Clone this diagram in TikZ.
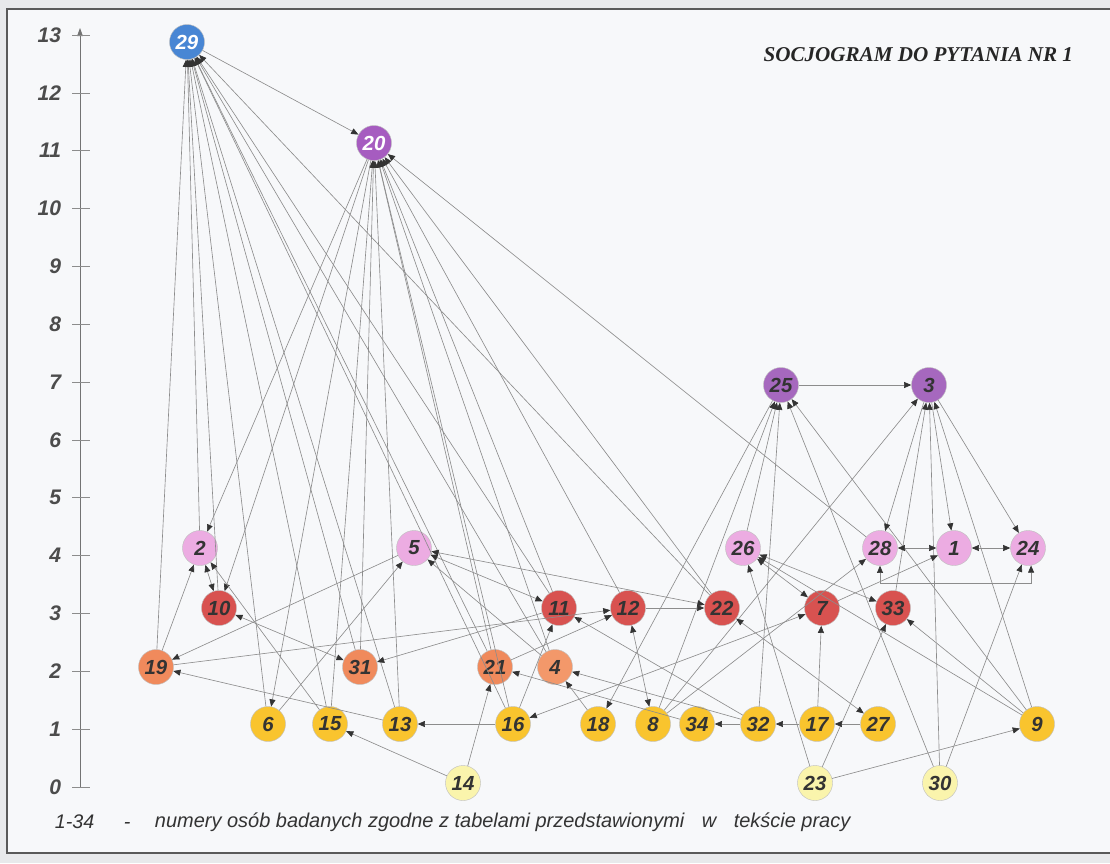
\documentclass[tikz,border=0pt]{standalone}
\usepackage{fontspec}
\setmainfont{Liberation Sans}
\newfontfamily\titlefont{Liberation Serif}
\usetikzlibrary{arrows.meta}

\definecolor{tlo}{RGB}{232,233,235}
\definecolor{kartka}{RGB}{247,248,250}
\definecolor{niebieski}{RGB}{72,134,212}
\definecolor{fiolet}{RGB}{166,92,192}
\definecolor{fiolet2}{RGB}{166,104,190}
\definecolor{roz}{RGB}{236,172,226}
\definecolor{czerwony}{RGB}{216,82,80}
\definecolor{pomar}{RGB}{240,138,92}
\definecolor{pomar2}{RGB}{243,152,106}
\definecolor{zolty}{RGB}{249,196,46}
\definecolor{jasny}{RGB}{250,244,172}
\definecolor{linia}{RGB}{140,140,140}

\tikzset{
  osoba/.style={
    draw=black!25,
    circle,
    minimum size=0.875cm,
    inner sep=0pt,
    line width=0.3pt,
    text=black!80,
    font=\fontsize{14.5}{16}\selectfont\bfseries\itshape
  },
  wybor/.style={
    draw=linia,
    line width=0.45pt,
    -{Triangle[length=1.8mm, width=1.5mm, black!80]}
  },
  wzajem/.style={
    draw=linia,
    line width=0.45pt,
    {Triangle[length=1.8mm, width=1.5mm, black!80]}-{Triangle[length=1.8mm, width=1.5mm, black!80]}
  }
}

\begin{document}
\begin{tikzpicture}[x=0.025cm, y=-0.025cm]
  \useasboundingbox (0,0) rectangle (1110,863);
  % Frame
  \fill[tlo] (0,0) rectangle (1110,863);
  \filldraw[fill=kartka, draw=black!65, line width=0.8pt] (7,9) rectangle (1120,853);

  % Axis
  \draw[black!55, line width=0.5pt, -{Triangle[length=2mm, width=1.4mm]}] (80,787) -- (80,28);
  \foreach \k in {0,...,13} {
    \draw[black!45, line width=0.4pt] (72,{787-57.85*\k}) -- (90,{787-57.85*\k});
    \node[anchor=east, text=black!70, font=\fontsize{15}{17}\selectfont\bfseries\itshape]
      at (66,{787-57.85*\k}) {\k};
  }

  % Title and legend
  \node[anchor=east, text=black!85, font=\titlefont\fontsize{15}{18}\selectfont\bfseries\itshape]
    (tytul) at (1078,55) {SOCJOGRAM DO PYTANIA NR 1};
  \node[anchor=west, text=black!80, font=\fontsize{14}{16}\selectfont\itshape]
    (numery) at (50,822) {1-34\hspace{1.5em}-};
  \node[anchor=west, text=black!80, font=\fontsize{14.2}{16}\selectfont\itshape]
    (legenda) at (150,822) {numery osób badanych zgodne z tabelami przedstawionymi\hspace{0.6em} w\hspace{0.6em} tekście pracy};

  % Persons
  \node[osoba, fill=niebieski, text=white] (n29) at (187,42) {29};
  \node[osoba, fill=fiolet, text=white] (n20) at (374,143) {20};
  \node[osoba, fill=fiolet2] (n25) at (781,385) {25};
  \node[osoba, fill=fiolet2] (n3) at (929,385) {3};

  \node[osoba, fill=roz] (n2) at (200,548) {2};
  \node[osoba, fill=roz] (n5) at (414,548) {5};
  \node[osoba, fill=roz] (n26) at (743,548) {26};
  \node[osoba, fill=roz] (n28) at (880,548) {28};
  \node[osoba, fill=roz] (n1) at (954,548) {1};
  \node[osoba, fill=roz] (n24) at (1028,548) {24};

  \node[osoba, fill=czerwony] (n10) at (219,608) {10};
  \node[osoba, fill=czerwony] (n11) at (559,608) {11};
  \node[osoba, fill=czerwony] (n12) at (628,608) {12};
  \node[osoba, fill=czerwony] (n22) at (722,608) {22};
  \node[osoba, fill=czerwony] (n7) at (822,608) {7};
  \node[osoba, fill=czerwony] (n33) at (893,608) {33};

  \node[osoba, fill=pomar] (n19) at (156,667) {19};
  \node[osoba, fill=pomar] (n31) at (360,667) {31};
  \node[osoba, fill=pomar] (n21) at (495,667) {21};
  \node[osoba, fill=pomar2] (n4) at (555,667) {4};

  \node[osoba, fill=zolty] (n6) at (268,724) {6};
  \node[osoba, fill=zolty] (n15) at (330,724) {15};
  \node[osoba, fill=zolty] (n13) at (400,724) {13};
  \node[osoba, fill=zolty] (n16) at (513,724) {16};
  \node[osoba, fill=zolty] (n18) at (598,724) {18};
  \node[osoba, fill=zolty] (n8) at (653,724) {8};
  \node[osoba, fill=zolty] (n34) at (697,724) {34};
  \node[osoba, fill=zolty] (n32) at (758,724) {32};
  \node[osoba, fill=zolty] (n17) at (817,724) {17};
  \node[osoba, fill=zolty] (n27) at (878,724) {27};
  \node[osoba, fill=zolty] (n9) at (1037,724) {9};

  \node[osoba, fill=jasny] (n14) at (463,783) {14};
  \node[osoba, fill=jasny] (n23) at (815,783) {23};
  \node[osoba, fill=jasny] (n30) at (940,783) {30};

  % Choices of 29
  \foreach \s in {19,2,10,6,15,31,13,21,4,11,16,22}
    \draw[wybor] (n\s) -- (n29);
  \draw[wybor] (n29) -- (n20);

  % Choices of 20
  \foreach \s in {31,15,13,21,4,11,16,12,22,28}
    \draw[wybor] (n\s) -- (n20);
  \draw[wybor] (n20) -- (n2);
  \draw[wybor] (n20) -- (n10);
  \draw[wybor] (n20) -- (n6);

  % Choices of 25 and 3
  \foreach \s in {26,8,32,30,9}
    \draw[wybor] (n\s) -- (n25);
  \draw[wybor] (n25) -- (n18);
  \draw[wybor] (n25) -- (n3);
  \foreach \s in {8,33,30,9}
    \draw[wybor] (n\s) -- (n3);
  \draw[wybor] (n3) -- (n28);
  \draw[wybor] (n3) -- (n1);
  \draw[wybor] (n3) -- (n24);

  % Left group
  \draw[wzajem] (n2) -- (n10);
  \draw[wybor] (n19) -- (n2);
  \draw[wybor] (n15) -- (n2);
  \draw[wzajem] (n10) -- (n31);
  \draw[wybor] (n11) -- (n31);
  \draw[wybor] (n5) -- (n19);
  \draw[wybor] (n13) -- (n19);
  \draw[wybor] (n19) -- (n12);
  \draw[wybor] (n6) -- (n5);
  \draw[wybor] (n4) -- (n5);
  \draw[wzajem] (n5) -- (n11);
  \draw[wzajem] (n5) -- (n22);
  \draw[wybor] (n14) -- (n15);
  \draw[wybor] (n14) -- (n21);
  \draw[wybor] (n16) -- (n13);
  \draw[wybor] (n16) -- (n11);
  \draw[wybor] (n21) -- (n12);
  \draw[wybor] (n34) -- (n21);
  \draw[wybor] (n18) -- (n4);
  \draw[wybor] (n32) -- (n4);
  \draw[wybor] (n32) -- (n11);

  % Right group
  \draw[wzajem] (n16) -- (n7);
  \draw[wybor] (n12) -- (n22);
  \draw[wzajem] (n12) -- (n8);
  \draw[wzajem] (n22) -- (n27);
  \draw[wzajem] (n26) -- (n7);
  \draw[wzajem] (n26) -- (n33);
  \draw[wybor] (n9) -- (n26);
  \draw[wybor] (n9) -- (n33);
  \draw[wybor] (n7) -- (n1);
  \draw[wybor] (n8) -- (n28);
  \draw[wybor] (n30) -- (n24);
  \draw[wzajem] (n28) -- (n1);
  \draw[wzajem] (n1) -- (n24);
  \coordinate (pod) at (955,583);
  \draw[wzajem] (n28.south) |- (pod) -| (n24.-80);
  \draw[wybor] (n23) -- (n26);
  \draw[wybor] (n23) -- (n33);
  \draw[wybor] (n23) -- (n9);
  \draw[wybor] (n17) -- (n7);
  \draw[wybor] (n27) -- (n17);
  \draw[wybor] (n17) -- (n32);
  \draw[wybor] (n32) -- (n34);
\end{tikzpicture}
\end{document}
